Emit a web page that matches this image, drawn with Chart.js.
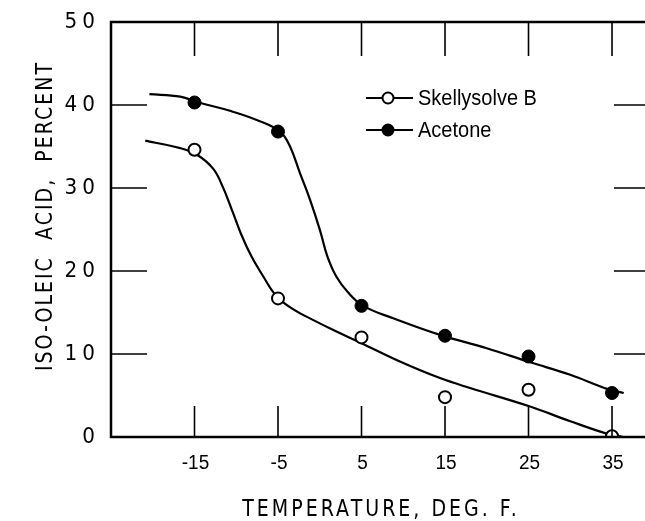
<!DOCTYPE html>
<html>
<head>
<meta charset="utf-8">
<script src="https://cdn.jsdelivr.net/npm/chart.js@4"></script>
<style>
  html, body { margin: 0; padding: 0; background: #fff; overflow: hidden; }
  canvas { display: block; }
</style>
</head>
<body>
<canvas id="chart" width="645" height="521"></canvas>
<script>
// ticks
const xTicks = [-15, -5, 5, 15, 25, 35];
const yTicks = [0, 10, 20, 30, 40, 50];

// measured points
const tempPoints = [-15, -5, 5, 15, 25, 35];
const skellyVals = [34.6, 16.7, 12.0, 4.8, 5.7, 0.1];
const acetoneVals = [40.3, 36.8, 15.8, 12.2, 9.7, 5.3];

// hand-drawn curves
const skellyCurveX = [-20.9, -16.7, -14.7, -12.75, -11.6, -10.5, -9.4, -8.2, -6.8, -5.2, -3.2, -1.0, 2.0, 4.8, 9.6, 14.4, 18.0, 25.1, 30.0, 34.4, 36.3];
const skellyCurveY = [35.7, 34.8, 34.0, 32.3, 30.1, 27.3, 24.4, 21.8, 19.4, 17.0, 15.4, 14.2, 12.7, 11.4, 9.1, 7.1, 5.9, 3.7, 1.9, 0.4, 0.0];
const acetoneCurveX = [-20.4, -16.7, -14.5, -10.75, -7.55, -4.76, -3.56, -2.37, -1.17, 0.03, 0.9, 2.0, 3.4, 5.2, 8.8, 14.4, 20.0, 25.2, 30.0, 34.4, 36.4];
const acetoneCurveY = [41.3, 41.0, 40.3, 39.3, 38.2, 36.8, 35.0, 31.8, 28.6, 24.9, 21.8, 19.3, 17.4, 15.8, 14.3, 12.3, 10.7, 9.0, 7.5, 5.8, 5.3];

const pts = (xs, ys) => xs.map((x, i) => ({ x, y: ys[i] }));

// old stencil lettering is tall and narrow: stretch vertically
function tallText(ctx, txt, x, y, sy) {
  ctx.save();
  ctx.translate(x, y);
  ctx.scale(1, sy);
  ctx.fillText(txt, 0, 0);
  ctx.restore();
}

const frame = {
  id: 'frame',
  afterDatasetsDraw(chart) {
    const { ctx, chartArea: a, scales: { x, y } } = chart;
    ctx.save();
    ctx.strokeStyle = '#000';
    ctx.lineCap = 'butt';
    // border: left, top, bottom (right one is cut off in the scan)
    ctx.lineWidth = 2.5;
    ctx.beginPath();
    ctx.moveTo(a.right + 5, a.top); ctx.lineTo(a.left, a.top);
    ctx.lineTo(a.left, a.bottom); ctx.lineTo(a.right + 5, a.bottom);
    ctx.stroke();
    // inside ticks
    ctx.lineWidth = 1.6;
    ctx.beginPath();
    xTicks.forEach(t => {
      const px = x.getPixelForValue(t);
      ctx.moveTo(px, a.bottom); ctx.lineTo(px, a.bottom - 31);
      ctx.moveTo(px, a.top); ctx.lineTo(px, a.top + 34);
    });
    yTicks.slice(1, -1).forEach(t => {
      const py = y.getPixelForValue(t);
      ctx.moveTo(a.left, py); ctx.lineTo(a.left + 36, py);
      ctx.moveTo(a.right + 5, py); ctx.lineTo(a.right - 31, py);
    });
    ctx.stroke();

    // tick labels
    ctx.fillStyle = '#000';
    ctx.textBaseline = 'middle';
    ctx.textAlign = 'right';
    ctx.font = '20px "DejaVu Sans"';
    ctx.letterSpacing = '5px';
    yTicks.forEach(t => {
      tallText(ctx, String(t), a.left - 11, y.getPixelForValue(t) + 1, 1.05);
    });
    ctx.letterSpacing = '0px';
    ctx.textAlign = 'center';
    ctx.font = '19px "Liberation Sans"';
    xTicks.forEach(t => {
      tallText(ctx, String(t), x.getPixelForValue(t) + 1, 464, 1.05);
    });

    // axis titles
    ctx.font = '19px "DejaVu Sans"';
    ctx.letterSpacing = '3px';
    tallText(ctx, 'TEMPERATURE, DEG. F.', 381, 510, 1.2);
    ctx.save();
    ctx.translate(46, 216);
    ctx.rotate(-Math.PI / 2);
    ctx.font = '19px "DejaVu Sans"';
    ctx.letterSpacing = '2px';
    tallText(ctx, 'ISO-OLEIC  ACID,  PERCENT', 0, 0, 1.2);
    ctx.restore();
    ctx.letterSpacing = '0px';

    // legend
    const items = [
      { label: 'Skellysolve B', fill: '#fff', yy: 98 },
      { label: 'Acetone', fill: '#000', yy: 130 }
    ];
    ctx.font = '20px "Liberation Sans"';
    ctx.textAlign = 'left';
    items.forEach(it => {
      ctx.lineWidth = 2;
      ctx.beginPath();
      ctx.moveTo(366, it.yy); ctx.lineTo(413, it.yy);
      ctx.stroke();
      ctx.beginPath();
      ctx.arc(388, it.yy, 5.5, 0, Math.PI * 2);
      ctx.fillStyle = it.fill;
      ctx.fill();
      ctx.stroke();
      ctx.fillStyle = '#000';
      tallText(ctx, it.label, 418, it.yy + 1, 1.12);
    });
    ctx.restore();
  }
};

new Chart(document.getElementById('chart'), {
  type: 'scatter',
  data: {
    datasets: [
      { label: 'skelly curve', data: pts(skellyCurveX, skellyCurveY), showLine: true, tension: 0.4,
        borderColor: '#000', borderWidth: 2.2, pointRadius: 0, order: 2 },
      { label: 'acetone curve', data: pts(acetoneCurveX, acetoneCurveY), showLine: true, tension: 0.4,
        borderColor: '#000', borderWidth: 2.2, pointRadius: 0, order: 2 },
      { label: 'Skellysolve B', data: pts(tempPoints, skellyVals), showLine: false,
        pointRadius: 6, pointBackgroundColor: '#fff', pointBorderColor: '#000', pointBorderWidth: 2, order: 1 },
      { label: 'Acetone', data: pts(tempPoints, acetoneVals), showLine: false,
        pointRadius: 6.5, pointBackgroundColor: '#000', pointBorderColor: '#000', pointBorderWidth: 1, order: 1 }
    ]
  },
  options: {
    responsive: false,
    animation: false,
    layout: { autoPadding: false, padding: { left: 111, top: 22, right: 0, bottom: 84 } },
    plugins: { legend: { display: false }, tooltip: { enabled: false } },
    scales: {
      x: { type: 'linear', min: -25, max: 38.95, display: false },
      y: { type: 'linear', min: 0, max: 50, display: false }
    }
  },
  plugins: [frame]
});
</script>
</body>
</html>
